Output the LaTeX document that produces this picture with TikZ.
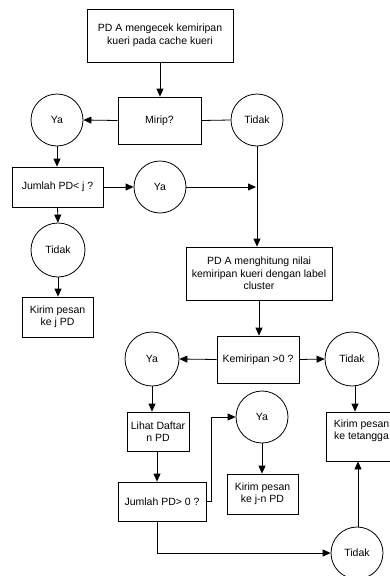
\documentclass[tikz,border=0pt]{standalone}
\usepackage{fontspec}
\setmainfont{Liberation Sans}
\usetikzlibrary{arrows.meta}
\tikzset{
  every node/.style={font=\fontsize{10.5}{12.5}\selectfont, line width=0.8pt},
  box/.style={draw, rectangle, align=center, inner sep=0pt},
  circ/.style={draw, circle, minimum size=52pt, inner sep=0pt},
  arr/.style={-{Triangle[length=8pt,width=7pt]}, line width=0.8pt},
  ln/.style={line width=0.8pt}
}
\begin{document}
\begin{tikzpicture}[x=1pt,y=-1pt]
\path[use as bounding box] (0,0) rectangle (390,576);
\clip (0,0) rectangle (390,576);
\fill[white] (0,0) rectangle (390,576);
% nodes
\node[box, minimum width=146pt, minimum height=53pt] (b1) at (160,35.5) {PD A mengecek kemiripan\\kueri pada cache kueri};
\node[box, minimum width=83pt, minimum height=47pt] (mirip) at (159.5,120.5) {Mirip?};
\node[circ] (ya1) at (57,120) {Ya};
\node[circ] (tidak1) at (257,120) {Tidak};
\node[box, minimum width=91pt, minimum height=40pt] (jml1) at (57.5,187) {Jumlah PD< j ?};
\node[circ] (ya2) at (160,187) {Ya};
\node[circ, minimum size=54pt] (tidak2) at (58,250) {Tidak};
\node[box, minimum width=71pt, minimum height=40pt] (kirim1) at (57.5,317) {Kirim pesan\\ke j PD};
\node[box, minimum width=146pt, minimum height=53pt] (hitung) at (259,273.5) {PD A menghitung nilai\\kemiripan kueri dengan label\\cluster};
\node[box, minimum width=82pt, minimum height=47pt] (kemir) at (258,359.5) {Kemiripan >0 ?};
\node[circ, minimum size=54pt] (ya3) at (152,359) {Ya};
\node[circ, minimum size=54pt] (tidak3) at (352,359) {Tidak};
\node[box, minimum width=62pt, minimum height=39pt] (lihat) at (158,431.5) {Lihat Daftar\\n PD};
\node[box, minimum width=88pt, minimum height=39pt] (jml2) at (162,501.5) {Jumlah PD> 0 ?};
\node[circ] (ya4) at (262,417) {Ya};
\node[box, minimum width=71pt, minimum height=40pt] (kirim2) at (262.5,494) {Kirim pesan\\ke j-n PD};
\node[box, minimum width=71pt, minimum height=49pt] (kirim3) at (361.5,436.5) {};
\node[align=center, inner sep=0pt] (kirim3t) at (361.5,431) {Kirim pesan\\ke tetangga};
\node[circ] (tidak4) at (357,553) {Tidak};
% connectors
\draw[arr] (b1.south) -- (b1.south |- mirip.north);
\draw[arr] (mirip.west) -- (ya1.east);
\draw[ln] (mirip.east) -- (tidak1.west);
\draw[arr] (tidak1.south) -- (tidak1.south |- hitung.north);
\draw[arr] (ya1.south) -- (ya1.south |- jml1.north);
\draw[arr] (jml1.east) -- (ya2.west);
\coordinate (m1) at ([xshift=-1pt]ya2.east -| tidak1.south);
\draw[arr] (ya2.east) -- (m1);
\draw[arr] (jml1.south) -- (tidak2.north);
\draw[arr] (tidak2.south) -- (tidak2.south |- kirim1.north);
\draw[arr] (hitung.south) -- (hitung.south |- kemir.north);
\draw[arr] (kemir.west) -- (ya3.east);
\draw[arr] (kemir.east) -- (tidak3.west);
\draw[arr] (ya3.south) -- (ya3.south |- lihat.north);
\draw[arr] ([xshift=-1pt]lihat.south) -- ([xshift=-1pt]lihat.south |- jml2.north);
\draw[arr] (jml2.east) -- ++(5,0) |- (ya4.west);
\draw[arr] (ya4.south) -- (ya4.south |- kirim2.north);
\draw[arr] ([xshift=-5pt]jml2.south) |- (tidak4.west);
\draw[arr] ([xshift=3pt]tidak3.south) -- ([xshift=3pt]tidak3.south |- kirim3.north);
\draw[arr] ([xshift=1pt]tidak4.north) -- ([xshift=1pt]tidak4.north |- kirim3.south);
\end{tikzpicture}
\end{document}
